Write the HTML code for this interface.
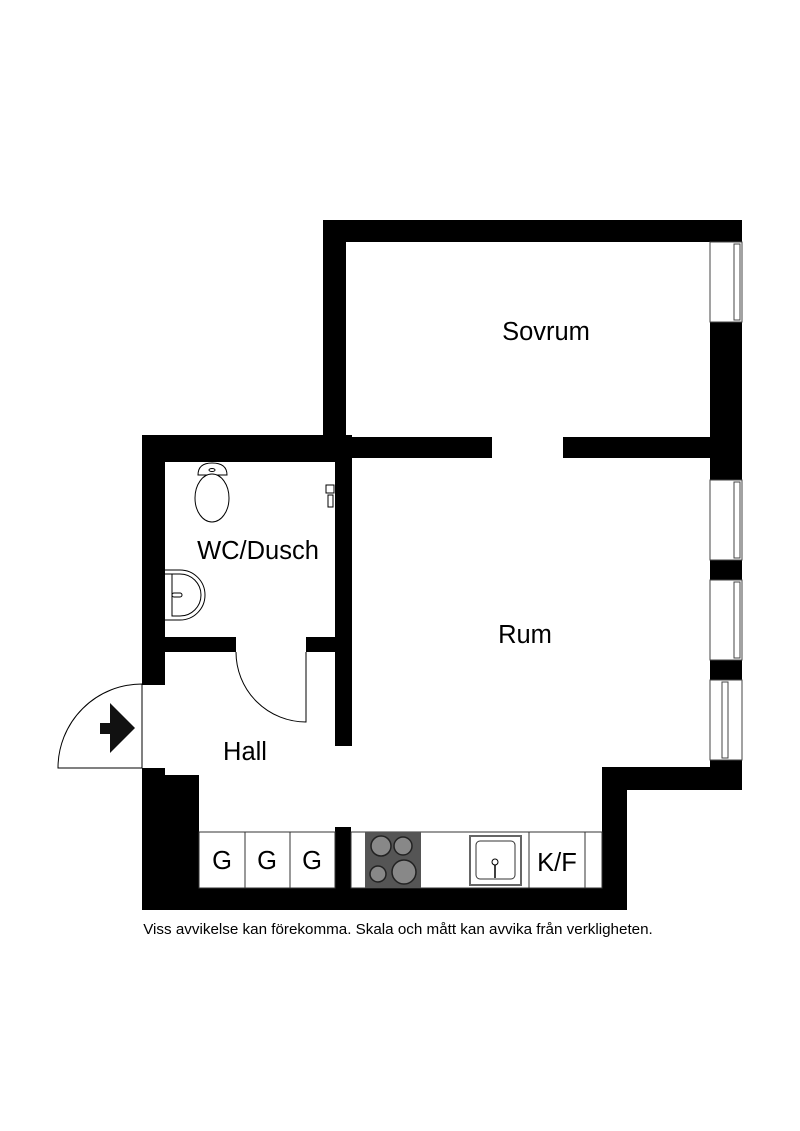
<!DOCTYPE html>
<html><head><meta charset="utf-8"><style>
html,body{margin:0;padding:0;background:#fff;}
svg{display:block}
text{font-family:"Liberation Sans",sans-serif;fill:#000}
</style></head><body>
<svg width="800" height="1131" viewBox="0 0 800 1131" xmlns="http://www.w3.org/2000/svg">
<rect width="800" height="1131" fill="#fff"/>
<g fill="#000">
<rect x="323" y="220" width="419" height="22"/>
<rect x="323" y="220" width="23" height="240"/>
<rect x="710" y="322" width="32" height="158"/>
<rect x="710" y="560" width="32" height="20"/>
<rect x="710" y="660" width="32" height="20"/>
<rect x="710" y="760" width="32" height="30"/>
<rect x="602" y="767" width="140" height="23"/>
<rect x="602" y="767" width="25" height="143"/>
<rect x="323" y="437" width="169" height="21"/>
<rect x="563" y="437" width="147" height="21"/>
<rect x="142" y="435" width="208" height="27"/>
<rect x="142" y="435" width="23" height="250"/>
<rect x="335" y="435" width="17" height="311"/>
<rect x="165" y="637" width="71" height="15"/>
<rect x="306" y="637" width="29" height="15"/>
<rect x="142" y="768" width="23" height="142"/>
<rect x="142" y="775" width="57" height="135"/>
<rect x="142" y="888" width="485" height="22"/>
<rect x="335" y="827" width="16" height="61"/>
</g>
<g fill="#fff" stroke="#444" stroke-width="1">
<rect x="710" y="242" width="32" height="80"/>
<rect x="710" y="480" width="32" height="80"/>
<rect x="710" y="580" width="32" height="80"/>
<rect x="710" y="680" width="32" height="80"/>
<rect x="734" y="244" width="6" height="76"/>
<rect x="734" y="482" width="6" height="76"/>
<rect x="734" y="582" width="6" height="76"/>
<rect x="722" y="682" width="6" height="76"/>
</g>
<g fill="none" stroke="#000" stroke-width="1">
<path d="M236 652 A70 70 0 0 0 306 722 L306 652"/>
<path d="M142 684 L142 768 L58 768 A84 84 0 0 1 142 684"/>
</g>
<path d="M110 703 L135 728 L110 753 L110 734 L100 734 L100 723 L110 723 Z" fill="#111"/>
<g fill="#fff" stroke="#333" stroke-width="1">
<rect x="199" y="832" width="136" height="56"/>
<line x1="245" y1="832" x2="245" y2="888"/>
<line x1="290" y1="832" x2="290" y2="888"/>
<rect x="351" y="832" width="251" height="56"/>
<line x1="529" y1="832" x2="529" y2="888"/>
<line x1="585" y1="832" x2="585" y2="888"/>
<rect x="470" y="836" width="51" height="49" stroke="#666" stroke-width="2"/>
<rect x="476" y="841" width="39" height="38" rx="4"/>
</g>
<circle cx="495" cy="862" r="3" fill="#fff" stroke="#000"/>
<line x1="495" y1="865" x2="495" y2="878" stroke="#000" stroke-width="1.5"/>
<rect x="365" y="832" width="56" height="56" fill="#555"/>
<g stroke="#222" stroke-width="1.5" fill="#888">
<circle cx="381" cy="846" r="10"/><circle cx="403" cy="846" r="9"/>
<circle cx="378" cy="874" r="8"/><circle cx="404" cy="872" r="12"/>
</g>
<g fill="#fff" stroke="#000" stroke-width="1">
<path d="M198 475 Q198 463 212 463 Q227 463 227 475 Z"/>
<ellipse cx="212" cy="498" rx="17" ry="24"/>
<ellipse cx="212" cy="470" rx="3" ry="1.5"/>
<path d="M165 570 L180 570 A25 25 0 0 1 180 620 L165 620"/>
<path d="M165 574 L180 574 A21 21 0 0 1 180 616 L172 616 L172 574"/>
<rect x="172" y="593" width="10" height="4" rx="2"/>
<rect x="326" y="485" width="8" height="8"/>
<rect x="328" y="495" width="5" height="12"/>
</g>
<g font-size="25.5">
<text x="546" y="340" text-anchor="middle">Sovrum</text>
<text x="258" y="559" text-anchor="middle">WC/Dusch</text>
<text x="525" y="643" text-anchor="middle">Rum</text>
<text x="245" y="760" text-anchor="middle">Hall</text>
<text x="222" y="869" text-anchor="middle">G</text>
<text x="267" y="869" text-anchor="middle">G</text>
<text x="312" y="869" text-anchor="middle">G</text>
<text x="557" y="871" text-anchor="middle">K/F</text>
</g>
<text x="398" y="934" text-anchor="middle" font-size="15.2">Viss avvikelse kan förekomma. Skala och mått kan avvika från verkligheten.</text>
</svg>
</body></html>
